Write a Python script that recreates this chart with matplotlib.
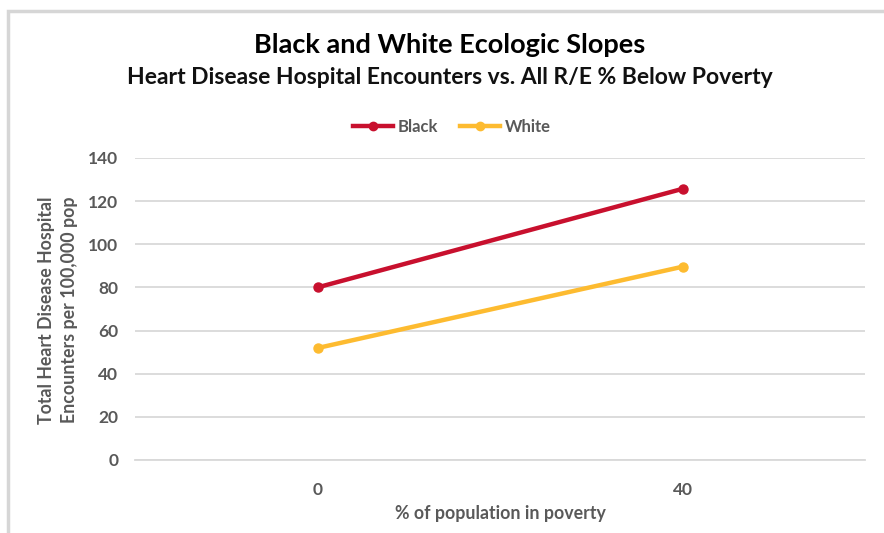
import matplotlib
matplotlib.use("Agg")
import matplotlib.pyplot as plt
from matplotlib.lines import Line2D
from matplotlib.patches import Rectangle

categories = ["0", "40"]
black_values = [80, 125.7]
white_values = [51.9, 89.6]
y_ticks = [0, 20, 40, 60, 80, 100, 120, 140]

BLACK_COLOR = "#C8102E"
WHITE_COLOR = "#FDBB30"
TEXT_GRAY = "#595959"
GRID_GRAY = "#D9D9D9"

plt.rcParams["font.family"] = ["Lato", "DejaVu Sans"]

fig = plt.figure(figsize=(8.84, 5.33), dpi=100)
fig.patch.set_facecolor("white")

# frame around the chart area
fig.add_artist(Rectangle((8 / 884, -0.05), 1.2, (533 - 11) / 533 + 0.05,
                         transform=fig.transFigure, fill=False,
                         edgecolor="#D6D6D6", linewidth=2.5))

ax = fig.add_axes([135 / 884, 1 - 460 / 533, (865 - 135) / 884, (460 - 158) / 533])
x = list(range(len(categories)))
ax.plot(x, black_values, color=BLACK_COLOR, lw=3.2, marker="o", ms=6.5,
        solid_capstyle="round", zorder=3)
ax.plot(x, white_values, color=WHITE_COLOR, lw=3.2, marker="o", ms=6.5,
        solid_capstyle="round", zorder=3)

ax.set_xlim(-0.5, len(categories) - 0.5)
ax.set_ylim(0, 140)
ax.set_yticks(y_ticks)
ax.set_xticks(x)
ax.set_xticklabels(categories)
ax.yaxis.grid(True, color=GRID_GRAY, lw=1.3)
ax.set_axisbelow(True)
for s in ax.spines.values():
    s.set_visible(False)
ax.spines["bottom"].set_visible(True)
ax.spines["bottom"].set_color(GRID_GRAY)
ax.spines["bottom"].set_linewidth(1.3)
ax.tick_params(axis="both", length=0, labelsize=12.5, labelcolor=TEXT_GRAY)
ax.tick_params(axis="y", pad=12)
ax.tick_params(axis="x", pad=16)
for lbl in ax.get_xticklabels() + ax.get_yticklabels():
    lbl.set_fontweight("bold")

fig.text(450 / 884, 1 - 45 / 533, "Black and White Ecologic Slopes",
         ha="center", va="center", fontsize=19.5, fontweight="bold", color="black")
fig.text(450 / 884, 1 - 78 / 533, "Heart Disease Hospital Encounters vs. All R/E % Below Poverty",
         ha="center", va="center", fontsize=16.5, fontweight="bold", color="#111111")

fig.text(500 / 884, 1 - 514 / 533, "% of population in poverty",
         ha="center", va="center", fontsize=12.8, fontweight="bold", color=TEXT_GRAY)
fig.text(58 / 884, 1 - 310 / 533, "Total Heart Disease Hospital\nEncounters per 100,000 pop",
         ha="center", va="center", rotation=90, fontsize=12.8, fontweight="bold",
         color=TEXT_GRAY, linespacing=1.45)

handles = [
    Line2D([], [], color=BLACK_COLOR, lw=3.2, marker="o", ms=6),
    Line2D([], [], color=WHITE_COLOR, lw=3.2, marker="o", ms=6),
]
fig.legend(handles, ["Black", "White"], loc="center", ncol=2,
           bbox_to_anchor=(452 / 884, 1 - 127 / 533), frameon=False,
           labelcolor=TEXT_GRAY, handlelength=2.4,
           handletextpad=0.3, columnspacing=1.3,
           prop={"weight": "bold", "size": 12})

fig.savefig("out.png", dpi=100, facecolor="white")
